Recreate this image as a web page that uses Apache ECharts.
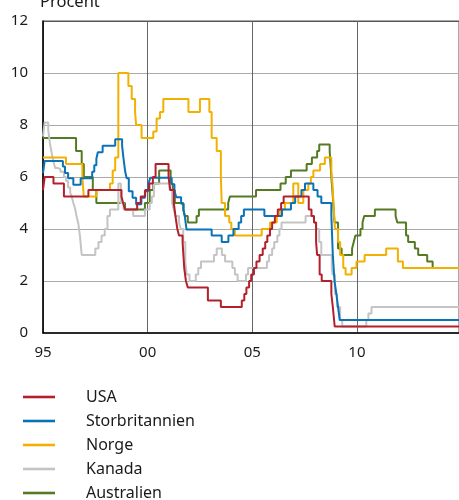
<!DOCTYPE html>
<html>
<head>
<meta charset="utf-8">
<script src="https://cdn.jsdelivr.net/npm/echarts@6/dist/echarts.min.js"></script>
<style>
html,body{margin:0;padding:0;background:#fff;}
#c{width:459px;height:500px;}
</style>
</head>
<body>
<div id="c"></div>
<script>
// Policy rates (step series): [decimal year, percent] at each change
const seriesNames = ['USA', 'Storbritannien', 'Norge', 'Kanada', 'Australien'];
const xTickYears = [1995, 2000, 2005, 2010];
const xTickLabels = ['95', '00', '05', '10'];
const yTicks = [0, 2, 4, 6, 8, 10, 12];
const endYear = 2014.88;

const usa = [[1995.0,5.5],[1995.08,6.0],[1995.5,5.75],[1996.0,5.25],[1997.17,5.5],[1998.75,5.25],[1998.83,5.0],[1998.92,4.75],
 [1999.5,5.0],[1999.67,5.25],[1999.88,5.5],[2000.08,5.75],[2000.25,6.0],[2000.38,6.5],[2001.0,6.0],[2001.08,5.5],[2001.25,5.0],
 [2001.33,4.5],[2001.42,4.0],[2001.5,3.75],[2001.67,3.5],[2001.71,3.0],[2001.75,2.5],[2001.83,2.0],[2001.92,1.75],[2002.88,1.25],
 [2003.5,1.0],[2004.5,1.25],[2004.62,1.5],[2004.72,1.75],[2004.85,2.0],[2004.95,2.25],[2005.08,2.5],[2005.2,2.75],[2005.35,3.0],
 [2005.5,3.25],[2005.62,3.5],[2005.72,3.75],[2005.85,4.0],[2005.95,4.25],[2006.08,4.5],[2006.22,4.75],[2006.38,5.0],[2006.5,5.25],
 [2007.7,4.75],[2007.83,4.5],[2007.95,4.25],[2008.05,3.5],[2008.1,3.0],[2008.22,2.25],[2008.32,2.0],[2008.78,1.5],[2008.85,1.0],[2008.94,0.25]];

const uk = [[1995.0,6.15],[1995.08,6.62],[1995.95,6.4],[1996.05,6.15],[1996.2,5.95],[1996.45,5.7],[1996.8,5.95],[1997.35,6.2],
 [1997.45,6.45],[1997.55,6.7],[1997.62,6.95],[1997.85,7.2],[1998.45,7.45],[1998.78,7.2],[1998.85,6.7],[1998.93,6.2],[1999.0,5.95],
 [1999.1,5.45],[1999.28,5.2],[1999.45,4.95],[1999.7,5.2],[1999.87,5.45],[2000.03,5.7],[2000.12,5.97],[2001.15,5.72],[2001.28,5.47],
 [2001.37,5.22],[2001.6,4.97],[2001.72,4.72],[2001.78,4.47],[2001.86,3.98],[2003.06,3.75],[2003.54,3.5],[2003.86,3.75],[2004.1,4.0],
 [2004.35,4.25],[2004.47,4.5],[2004.6,4.75],[2005.58,4.5],[2006.42,4.75],[2006.85,5.0],[2007.05,5.25],[2007.35,5.5],[2007.52,5.75],
 [2007.92,5.5],[2008.12,5.25],[2008.3,5.0],[2008.78,4.5],[2008.85,3.0],[2008.93,2.0],[2009.02,1.5],[2009.1,1.0],[2009.18,0.5]];

const norge = [[1995.0,6.75],[1996.1,6.5],[1996.88,6.0],[1996.95,5.25],[1997.55,5.5],[1998.2,5.75],[1998.33,6.25],[1998.45,6.75],
 [1998.6,10.0],[1999.08,9.5],[1999.24,9.0],[1999.4,8.5],[1999.45,8.0],[1999.71,7.5],[2000.27,7.75],[2000.43,8.25],[2000.59,8.5],
 [2000.75,9.0],[2001.95,8.5],[2002.5,9.0],[2002.95,8.5],[2003.06,7.5],[2003.3,7.0],[2003.5,6.0],[2003.54,5.0],[2003.7,4.5],
 [2003.9,4.25],[2004.0,4.0],[2004.17,3.75],[2005.45,4.0],[2005.85,4.25],[2006.17,4.5],[2006.32,4.75],[2006.56,5.0],[2006.96,5.75],
 [2007.2,5.0],[2007.44,5.5],[2007.68,5.75],[2007.8,6.0],[2007.92,6.25],[2008.24,6.5],[2008.47,6.75],[2008.78,6.25],[2008.83,5.75],
 [2008.9,4.75],[2008.95,4.0],[2009.1,3.5],[2009.2,3.0],[2009.35,2.5],[2009.46,2.25],[2009.75,2.5],[2009.98,2.75],[2010.37,3.0],
 [2011.4,3.25],[2011.96,2.75],[2012.2,2.5]];

const kanada = [[1995.0,7.55],[1995.08,8.1],[1995.25,7.8],[1995.33,7.3],[1995.42,6.9],[1995.5,6.6],[1995.58,6.35],[1995.7,6.3],
 [1995.83,6.2],[1996.0,6.0],[1996.1,5.85],[1996.2,5.6],[1996.3,5.4],[1996.37,5.25],[1996.45,5.0],[1996.53,4.8],[1996.6,4.5],
 [1996.69,4.2],[1996.77,3.7],[1996.85,3.0],[1997.5,3.25],[1997.65,3.5],[1997.8,3.75],[1997.95,4.0],[1998.08,4.5],[1998.2,4.75],
 [1998.6,5.75],[1998.72,5.0],[1998.85,4.75],[1999.31,4.5],[1999.87,4.75],[2000.1,5.0],[2000.2,5.25],[2000.3,5.75],[2001.05,5.5],
 [2001.17,5.0],[2001.25,4.75],[2001.33,4.5],[2001.5,4.25],[2001.58,4.0],[2001.7,3.5],[2001.8,2.75],[2001.87,2.25],[2002.0,2.0],
 [2002.3,2.25],[2002.42,2.5],[2002.55,2.75],[2003.17,3.0],[2003.3,3.25],[2003.55,3.0],[2003.7,2.75],[2004.05,2.5],[2004.17,2.25],
 [2004.3,2.0],[2004.7,2.25],[2004.8,2.5],[2005.7,2.75],[2005.8,3.0],[2005.95,3.25],[2006.05,3.5],[2006.2,3.75],[2006.3,4.0],
 [2006.4,4.25],[2007.55,4.5],[2007.95,4.25],[2008.05,4.0],[2008.2,3.5],[2008.3,3.0],[2008.8,2.5],[2008.83,2.25],[2008.95,1.5],
 [2009.05,1.0],[2009.2,0.5],[2009.3,0.25],[2010.45,0.5],[2010.55,0.75],[2010.7,1.0]];

const australien = [[1995.0,7.5],[1996.58,7.0],[1996.85,6.5],[1996.95,6.0],[1997.38,5.5],[1997.55,5.0],[1998.92,4.75],[1999.87,5.0],
 [2000.1,5.5],[2000.27,5.75],[2000.55,6.25],[2001.1,5.75],[2001.2,5.5],[2001.3,5.0],[2001.7,4.75],[2001.78,4.5],[2001.92,4.25],
 [2002.34,4.5],[2002.45,4.75],[2003.85,5.0],[2003.93,5.25],[2005.18,5.5],[2006.35,5.75],[2006.6,6.0],[2006.85,6.25],[2007.6,6.5],
 [2007.85,6.75],[2008.1,7.0],[2008.2,7.25],[2008.7,7.0],[2008.78,6.0],[2008.85,5.25],[2008.93,4.25],[2009.1,3.25],[2009.27,3.0],
 [2009.77,3.25],[2009.85,3.5],[2009.93,3.75],[2010.17,4.0],[2010.27,4.25],[2010.35,4.5],[2010.86,4.75],[2011.85,4.5],[2011.93,4.25],
 [2012.35,3.75],[2012.45,3.5],[2012.77,3.25],[2012.93,3.0],[2013.36,2.75],[2013.62,2.5]];

const colors = {
  'USA': '#b3202c',
  'Storbritannien': '#0b72b8',
  'Norge': '#f2b000',
  'Kanada': '#c4c4c4',
  'Australien': '#557a24'
};
const dataByName = {'USA': usa, 'Storbritannien': uk, 'Norge': norge, 'Kanada': kanada, 'Australien': australien};

function withEnd(arr){
  const out = arr.slice();
  out.push([endYear, arr[arr.length-1][1]]);
  return out;
}

const FONT = '"Noto Sans", "Open Sans", sans-serif';
const chart = echarts.init(document.getElementById('c'), null, {renderer:'canvas'});

const drawOrder = seriesNames.slice().reverse();
const series = drawOrder.map(name => ({
  name: name,
  type: 'line',
  step: 'end',
  data: withEnd(dataByName[name]),
  showSymbol: false,
  symbol: 'none',
  lineStyle: {color: colors[name], width: 2},
  itemStyle: {color: colors[name]},
  animation: false
}));

chart.setOption({
  animation: false,
  textStyle: {fontFamily: FONT},
  grid: {left: 43, top: 21, right: -1, height: 312, show: true, borderColor: '#555', borderWidth: 1},
  xAxis: {
    type: 'value', min: 1995, max: endYear, interval: 5,
    axisLine: {show: true, lineStyle: {color: '#000', width: 1.5}},
    axisTick: {show: false},
    splitLine: {show: true, lineStyle: {color: '#666', width: 1}},
    axisLabel: {
      color: '#1a1a1a', fontSize: 15, fontFamily: FONT, margin: 12,
      showMaxLabel: false,
      formatter: v => { const i = xTickYears.indexOf(Math.round(v)); return i >= 0 ? xTickLabels[i] : ''; }
    }
  },
  yAxis: {
    type: 'value', min: yTicks[0], max: yTicks[yTicks.length-1], interval: 2,
    axisLine: {show: true, lineStyle: {color: '#000', width: 1.5}},
    axisTick: {show: false},
    splitLine: {show: true, lineStyle: {color: ['#aaa','#aaa','#aaa','#aaa','#aaa','#aaa','#555'], width: 1}},
    axisLabel: {color: '#1a1a1a', fontSize: 15, fontFamily: FONT, margin: 15}
  },
  legend: {
    data: seriesNames.map(n => ({name: n, icon: 'path://M0,0L32,0L32,2.6L0,2.6Z'})),
    orient: 'vertical', left: 18, top: 384, height: 200,
    padding: 5,
    itemWidth: 32, itemHeight: 14, itemGap: 8,
    textStyle: {color: '#1a1a1a', fontSize: 16, fontFamily: FONT, padding: [0,0,0,26], lineHeight: 14},
    selectedMode: false
  },
  graphic: [{
    type: 'text', left: 40, top: -6,
    style: {text: 'Procent', fontSize: 16.5, fontFamily: FONT, fill: '#1a1a1a'}
  }],
  series: series
});
</script>
</body>
</html>
